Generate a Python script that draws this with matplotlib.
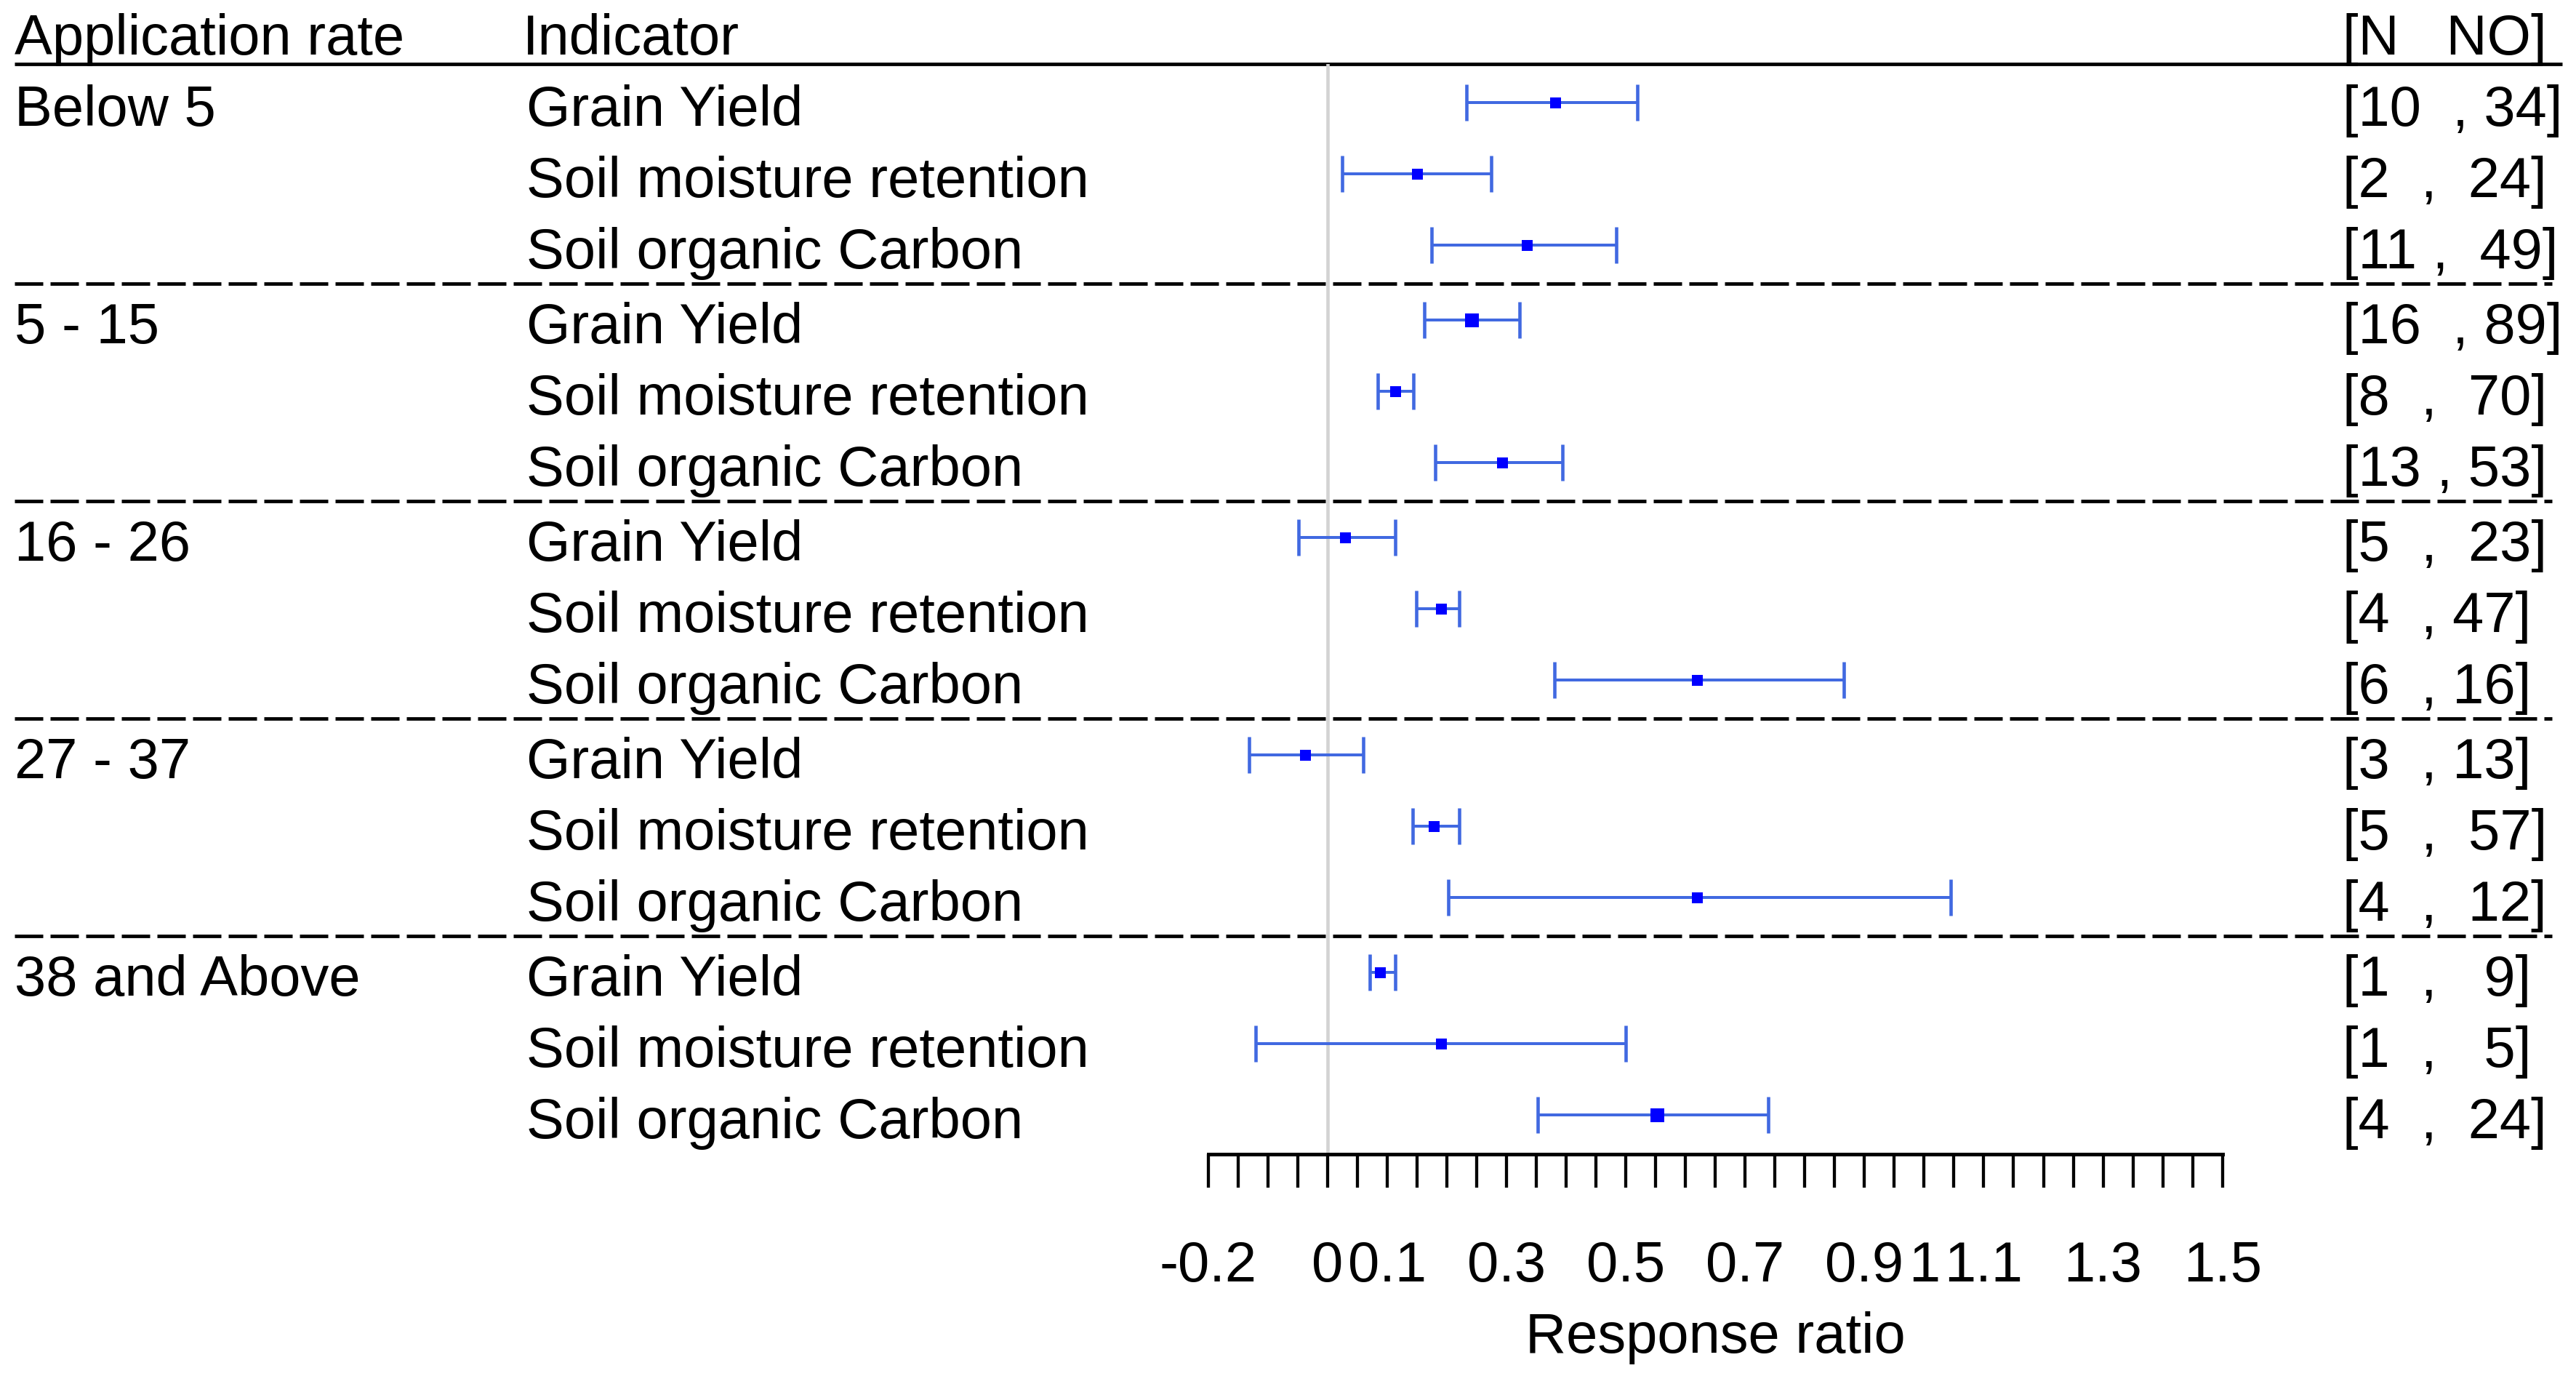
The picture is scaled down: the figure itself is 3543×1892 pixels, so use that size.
import numpy as np
import matplotlib
matplotlib.use("Agg")
import matplotlib.pyplot as plt
from matplotlib.transforms import blended_transform_factory as btf

plt.rcParams['font.family'] = ['Liberation Sans', 'DejaVu Sans']
plt.rcParams['lines.scale_dashes'] = False

# ---------------- data ----------------
groups = ["Below 5", "5 - 15", "16 - 26", "27 - 37", "38 and Above"]
indicators = ["Grain Yield", "Soil moisture retention", "Soil organic Carbon"]

estimate = [0.382, 0.150, 0.334,
            0.242, 0.114, 0.293,
            0.029, 0.190, 0.619,
            -0.037, 0.178, 0.619,
            0.088, 0.190, 0.552]
lower = [0.233, 0.024, 0.174,
         0.162, 0.084, 0.180,
         -0.049, 0.149, 0.381,
         -0.132, 0.143, 0.203,
         0.071, -0.120, 0.352]
upper = [0.519, 0.275, 0.484,
         0.322, 0.144, 0.394,
         0.113, 0.221, 0.865,
         0.060, 0.221, 1.044,
         0.113, 0.500, 0.739]
n_studies = [10, 2, 11, 16, 8, 13, 5, 4, 6, 3, 5, 4, 1, 1, 4]
n_obs = [34, 24, 49, 89, 70, 53, 23, 47, 16, 13, 57, 12, 9, 5, 24]

major_ticks = [-0.2, 0, 0.1, 0.3, 0.5, 0.7, 0.9, 1, 1.1, 1.3, 1.5]
major_labels = ["-0.2", "0", "0.1", "0.3", "0.5", "0.7", "0.9", "1", "1.1", "1.3", "1.5"]

# ---------------- style ----------------
W, H = 3543, 1892
FS = 56
PT = 0.72  # points per pixel at dpi 100
gap_before = [2, 2, 1, 2, 2, 1, 2, 2, 2, 2, 2, 2, 2, 2, 2]
gap_after = [1, 2, 2, 1, 2, 1, 2, 1, 1, 1, 2, 2, 3, 3, 2]
box_px = [15, 15, 15, 19, 15, 15, 15, 15, 15, 15, 15, 15, 15, 15, 19]
GROUP_STEP = 3.051

fig = plt.figure(figsize=(W / 100, H / 100), dpi=100)
ax = fig.add_axes([1661.7 / W, 1 - 1586.7 / H, (3056.7 - 1661.7) / W, (1586.7 - 87.7) / H])

ypos = [g * GROUP_STEP + k for g in range(len(groups)) for k in range(len(indicators))]
ax.set_xlim(-0.2, 1.5)
ax.set_ylim(ypos[-1] + 0.548, -0.544)

est = np.array(estimate)
lo = np.array(lower)
hi = np.array(upper)

# zero reference line
ax.axvline(0, color='#D3D3D3', lw=4.6 * PT, zorder=2)

# confidence intervals
ax.errorbar(est, ypos, xerr=[est - lo, hi - est], fmt='none', ecolor='#4169E1',
            elinewidth=4.0 * PT, capsize=25 * PT, capthick=4.6 * PT, zorder=3)
for x, y, b in zip(est, ypos, box_px):
    ax.plot([x], [y], marker='s', color='#0000FF', markersize=b * PT,
            markeredgewidth=0, linestyle='none', zorder=4)

# horizontal separators across whole figure
tr_line = btf(fig.transFigure, ax.transData)
ax.plot([20 / W, 3524 / W], [ypos[0] - 0.544] * 2, color='black', lw=4.8 * PT,
        transform=tr_line, clip_on=False, zorder=1, solid_capstyle='butt')
for g in range(len(groups) - 1):
    yb = ypos[g * 3 + 2] + 0.545
    ax.plot([20 / W, 3510 / W], [yb, yb], color='black', lw=4.8 * PT,
            linestyle=(0, (39 * PT, 10 * PT)), transform=tr_line, clip_on=False,
            zorder=1, dash_capstyle='butt')

# text columns
tr_txt = btf(fig.transFigure, ax.transData)
hdr_y = ypos[0] - 0.673
ax.text(20 / W, hdr_y, "Application rate", transform=tr_txt, fontsize=FS, va='baseline', ha='left')
ax.text(719 / W, hdr_y, "Indicator", transform=tr_txt, fontsize=FS, va='baseline', ha='left')
ax.text(3222 / W, hdr_y, "[N   NO]", transform=tr_txt, fontsize=FS, va='baseline', ha='left')

for i, y in enumerate(ypos):
    g, k = divmod(i, 3)
    yb = y + 0.323
    if k == 0:
        ax.text(20 / W, yb, groups[g], transform=tr_txt, fontsize=FS, va='baseline', ha='left')
    ax.text(724 / W, yb, indicators[k], transform=tr_txt, fontsize=FS, va='baseline', ha='left')
    lab = "[" + str(n_studies[i]) + " " * gap_before[i] + "," + " " * gap_after[i] + str(n_obs[i]) + "]"
    ax.text(3222 / W, yb, lab, transform=tr_txt, fontsize=FS, va='baseline', ha='left')

# x axis
for s in ['top', 'left', 'right']:
    ax.spines[s].set_visible(False)
ax.spines['bottom'].set_linewidth(5 * PT)
ax.set_yticks([])
minor = [round(v, 2) for v in np.arange(-0.2, 1.5001, 0.05) if not any(abs(v - m) < 1e-6 for m in major_ticks)]
ax.set_xticks(major_ticks, labels=major_labels)
ax.set_xticks(minor, minor=True)
ax.tick_params(axis='x', which='both', direction='out', length=46 * PT, width=4.3 * PT,
               color='black', labelsize=FS, pad=52)
ax.text(0.5, 1 - 1860 / H, "Response ratio", transform=btf(ax.transAxes, fig.transFigure),
        fontsize=FS, ha='center', va='baseline')

fig.savefig("out.png", dpi=100, facecolor='white')
